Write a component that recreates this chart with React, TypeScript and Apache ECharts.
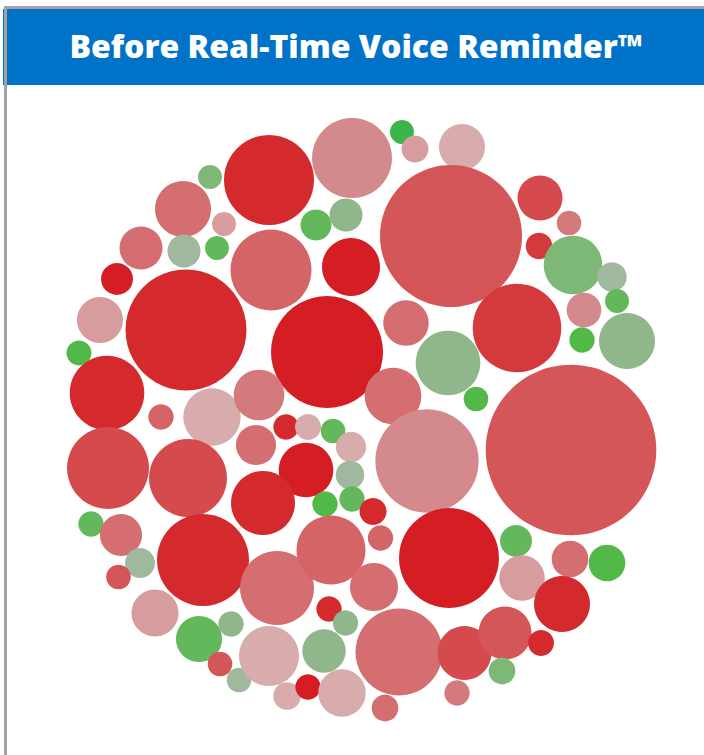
import React, { useEffect, useRef } from "react";
import * as echarts from "echarts";

const TITLE = "Before Real-Time Voice Reminder™";

// Bubble centres (x, y), radii and tone index
const bubbleX = [
  269, 352, 210, 183, 224, 316, 346, 141, 184, 217,
  271, 351, 117, 100, 186, 327, 79, 402, 415, 462,
  451, 540, 569, 539, 573, 612, 617, 584, 582, 627,
  517, 406, 448, 107, 161, 212, 259, 286, 308, 333,
  351, 256, 306, 350, 352, 325, 373, 380.5, 108, 188,
  263, 91, 121, 140, 118.5, 203, 277, 331, 393, 476,
  571, 427, 449, 516, 570, 607, 522, 374, 155, 199,
  231, 220, 239, 269, 329, 345.5, 324, 287, 308, 342,
  399, 385, 464.5, 457, 505, 502, 541, 562,
];
const bubbleY = [
  180, 158, 177, 209, 224, 225, 215, 248, 251, 248,
  270, 267, 279, 320, 330, 352, 353, 132, 149, 147,
  236, 198, 223, 246, 265, 277, 301, 310, 340, 341,
  328, 323, 363, 393, 417, 417, 395, 427, 427, 431,
  447, 445, 470, 475, 499, 504, 511.5, 538, 468, 478,
  503, 524, 535, 563, 577, 560, 588, 550, 396, 399,
  450, 461, 558, 541, 559, 563, 578, 587, 613, 639,
  624, 664, 680, 656, 609, 623, 651, 696, 687, 693,
  652, 708, 653, 693, 633, 671, 643, 604,
];
const bubbleR = [
  45, 40, 12, 28, 12, 15.5, 16.5, 21.5, 16.5, 12,
  40.5, 29, 16, 23, 60.5, 56, 12.5, 12, 13.5, 23,
  71, 22.5, 12.3, 13.3, 29.3, 14.7, 12, 17.3, 12.7, 28,
  44.3, 22.7, 32.3, 37.3, 12.7, 28.7, 25.3, 12.7, 13, 12.3,
  15.2, 20, 27.3, 14.3, 12.7, 12.7, 13.5, 12.7, 41, 39,
  32, 12.7, 21, 15, 12.3, 46, 37, 34.5, 28.3, 12.3,
  85.3, 51.7, 50, 16, 18.3, 18.3, 22.7, 24, 23.5, 23,
  12.7, 12.3, 12.3, 30, 12.7, 12.7, 21.7, 13.8, 12.7, 23.7,
  43.5, 13.4, 27, 12.7, 26.5, 13.4, 13, 28,
];
const bubbleTone = [
  1, 8, 13, 6, 9, 14, 12, 6, 11, 14,
  5, 0, 0, 9, 1, 0, 15, 16, 9, 10,
  4, 3, 7, 2, 13, 11, 14, 8, 15, 12,
  2, 6, 12, 1, 5, 10, 7, 1, 10, 14,
  10, 6, 0, 11, 14, 15, 1, 5, 3, 3,
  1, 14, 6, 11, 4, 1, 6, 5, 6, 15,
  4, 8, 0, 14, 6, 15, 9, 6, 9, 14,
  12, 4, 11, 10, 1, 12, 12, 10, 0, 10,
  6, 6, 3, 7, 4, 13, 1, 1,
];

const PALETTE = [
  "#D41E24", "#D42A2E", "#D43A3D", "#D44A4D", "#D45658", "#D46466",
  "#D46E70", "#D47A7C", "#D48A8C", "#D69C9E", "#D8ACAD",
  "#A0B89E", "#90B78C", "#7DB877", "#63B85B", "#52B847", "#3BB54A",
];

const W = 704;
const H = 755;

export default function App() {
  const ref = useRef<HTMLDivElement>(null);

  useEffect(() => {
    if (!ref.current) return;
    const chart = echarts.init(ref.current, null, { renderer: "svg" });
    const data = bubbleX.map((x, i) => [x, bubbleY[i], bubbleR[i], bubbleTone[i]]);
    chart.setOption({
      animation: false,
      backgroundColor: "#ffffff",
      grid: { left: 0, right: 0, top: 0, bottom: 0 },
      xAxis: { type: "value", min: 0, max: W, show: false },
      yAxis: { type: "value", min: 0, max: H, inverse: true, show: false },
      series: [
        {
          type: "custom",
          data,
          renderItem: (params: any, api: any) => {
            const c = api.coord([api.value(0), api.value(1)]);
            const s = api.size([api.value(2), api.value(2)]);
            return {
              type: "circle",
              shape: { cx: c[0], cy: c[1], r: Math.abs(s[0]) },
              style: { fill: PALETTE[api.value(3)] },
            };
          },
        },
      ],
      graphic: [
        { type: "rect", shape: { x: 3, y: 9, width: 701, height: 76 }, style: { fill: "#0073C8" } },
        { type: "rect", shape: { x: 4, y: 6, width: 700, height: 3 }, style: { fill: "#A2A2A6" } },
        { type: "rect", shape: { x: 4, y: 6, width: 3, height: 749 }, style: { fill: "#A2A2A6" } },
        {
          type: "text",
          x: 356,
          y: 45,
          style: {
            text: TITLE,
            fill: "#ffffff",
            font: "800 32px 'Open Sans', sans-serif",
            align: "center",
            verticalAlign: "middle",
          },
        },
      ],
    });
    return () => chart.dispose();
  }, []);

  return (
    <div
      ref={ref}
      style={{ position: "fixed", left: 0, top: 0, width: W, height: H }}
    />
  );
}
